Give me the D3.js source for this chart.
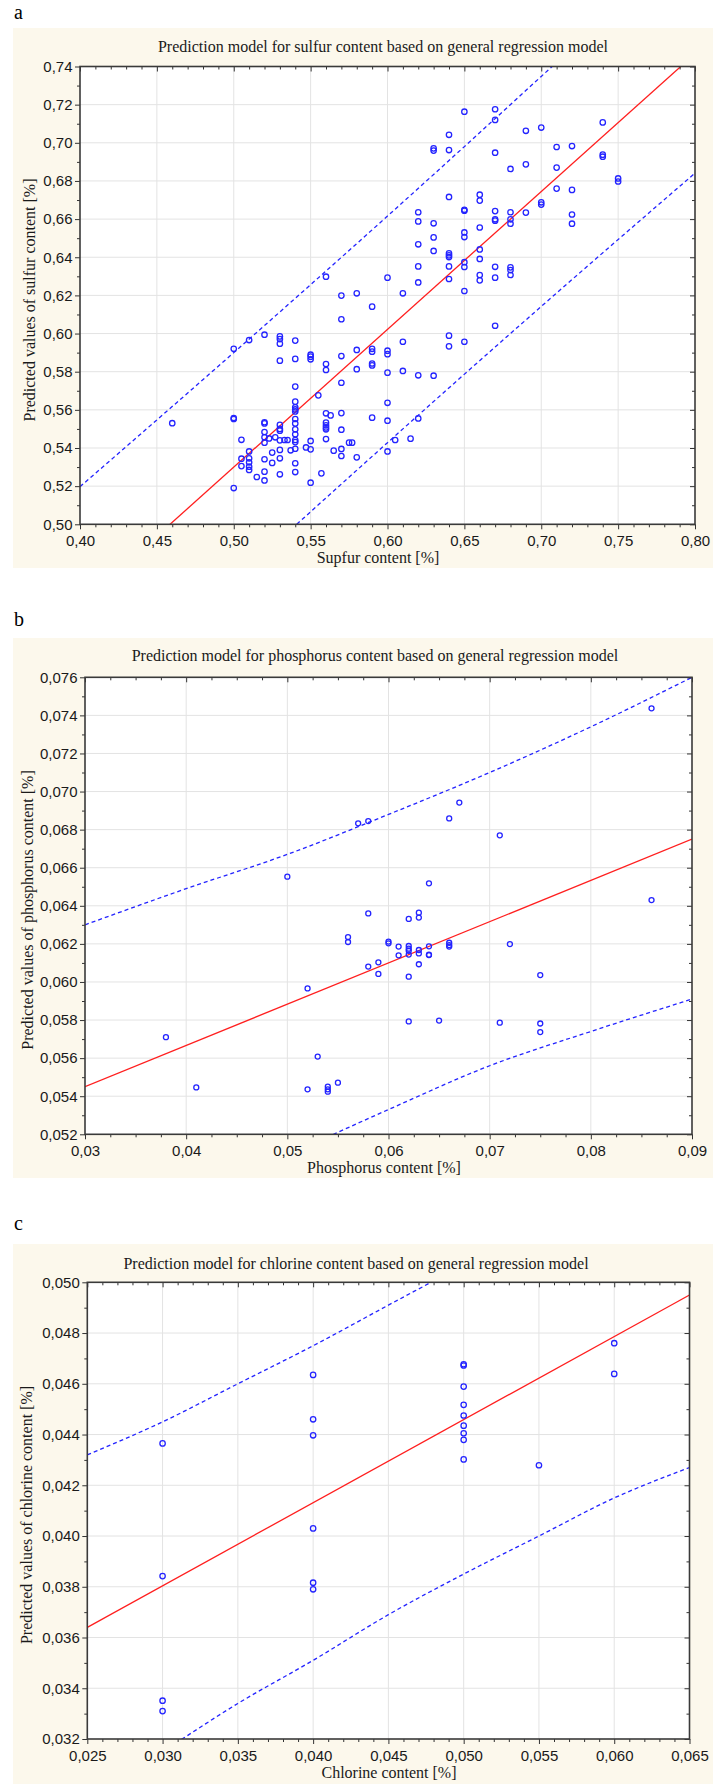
<!DOCTYPE html>
<html>
<head>
<meta charset="utf-8">
<script src="https://cdn.jsdelivr.net/npm/d3@7"></script>
<style>
  body { margin: 0; background: #fff; }
  svg { display: block; }
</style>
</head>
<body>
<div id="chart"></div>
<script>
// ---- data ----

// a: sulfur (x grouped, each x has a list of predicted values)
const sulfurX = [0.46, 0.50, 0.505, 0.51, 0.515, 0.52, 0.523, 0.525, 0.527, 0.53, 0.533, 0.535, 0.537,
  0.54, 0.547, 0.55, 0.555, 0.557, 0.56, 0.563, 0.565, 0.57, 0.575, 0.577, 0.58, 0.59, 0.60, 0.605,
  0.61, 0.615, 0.62, 0.63, 0.64, 0.65, 0.66, 0.67, 0.68, 0.69, 0.70, 0.71, 0.72, 0.74, 0.75];
const sulfurY = [
  [0.553],
  [0.592, 0.5557, 0.5552, 0.519],
  [0.5443, 0.5344, 0.5305],
  [0.5966, 0.5382, 0.5346, 0.5325, 0.5302, 0.5285],
  [0.5248],
  [0.5994, 0.5535, 0.5529, 0.5484, 0.5456, 0.5428, 0.5341, 0.5276, 0.5230],
  [0.5450],
  [0.5376, 0.5322],
  [0.5456],
  [0.5985, 0.5971, 0.5947, 0.5858, 0.5521, 0.5500, 0.5491, 0.5440, 0.5390, 0.5346, 0.5262],
  [0.5442],
  [0.5442],
  [0.5388],
  [0.5963, 0.5867, 0.5722, 0.5643, 0.5613, 0.5602, 0.5592, 0.5552, 0.5529, 0.5498, 0.5472, 0.5442, 0.5431, 0.5396, 0.5320, 0.5274],
  [0.5403],
  [0.5889, 0.5879, 0.5865, 0.5437, 0.5393, 0.5218],
  [0.5676],
  [0.5267],
  [0.6298, 0.5840, 0.5809, 0.5582, 0.5533, 0.5519, 0.5508, 0.5498, 0.5447],
  [0.5571],
  [0.5386],
  [0.6199, 0.6075, 0.5882, 0.5742, 0.5583, 0.5496, 0.5395, 0.5358],
  [0.5428],
  [0.5428],
  [0.6211, 0.5914, 0.5813, 0.5351],
  [0.6141, 0.5920, 0.5905, 0.5843, 0.5833, 0.5559],
  [0.6293, 0.5910, 0.5892, 0.5795, 0.5637, 0.5543, 0.5382],
  [0.5442],
  [0.6211, 0.5957, 0.5804],
  [0.5449],
  [0.6636, 0.6588, 0.6468, 0.6352, 0.6268, 0.5781, 0.5555],
  [0.6971, 0.6959, 0.6578, 0.6504, 0.6433, 0.5779],
  [0.7042, 0.6962, 0.6716, 0.6421, 0.6410, 0.6401, 0.6352, 0.6286, 0.5989, 0.5933],
  [0.7163, 0.6649, 0.6644, 0.6530, 0.6506, 0.6374, 0.6349, 0.6223, 0.5957],
  [0.6728, 0.6697, 0.6556, 0.6441, 0.6391, 0.6307, 0.6279],
  [0.7176, 0.7120, 0.6948, 0.6642, 0.6599, 0.6592, 0.6350, 0.6293, 0.6041],
  [0.6863, 0.6636, 0.6599, 0.6576, 0.6347, 0.6333, 0.6307],
  [0.7063, 0.6887, 0.6634],
  [0.7080, 0.6688, 0.6676],
  [0.6978, 0.6870, 0.6760],
  [0.6983, 0.6753, 0.6624, 0.6576],
  [0.7107, 0.6938, 0.6927],
  [0.6813, 0.6797]
];
const sulfurFitX = [0.40, 0.80];
const sulfurFitY = [0.4577, 0.7467];
const sulfurBandX = [0.40, 0.50, 0.60, 0.70, 0.80];
const sulfurUpper = [0.5197, 0.5900, 0.6616, 0.7348, 0.8093];
const sulfurLower = [0.3957, 0.4700, 0.5428, 0.6142, 0.6841];
const sulfurXTicks = [0.40, 0.45, 0.50, 0.55, 0.60, 0.65, 0.70, 0.75, 0.80];
const sulfurYTicks = [0.50, 0.52, 0.54, 0.56, 0.58, 0.60, 0.62, 0.64, 0.66, 0.68, 0.70, 0.72, 0.74];

// b: phosphorus
const phosX = [0.038, 0.041, 0.050, 0.052, 0.053, 0.054, 0.055, 0.056, 0.057, 0.058, 0.059, 0.060,
  0.061, 0.062, 0.063, 0.064, 0.065, 0.066, 0.067, 0.071, 0.072, 0.075, 0.086];
const phosY = [
  [0.0571], [0.05446], [0.06553], [0.05966, 0.05436], [0.05608], [0.05450, 0.05436, 0.05424],
  [0.05471], [0.06236, 0.06210], [0.06833], [0.06845, 0.06360, 0.06081], [0.06103, 0.06042],
  [0.06212, 0.06203], [0.06186, 0.06140],
  [0.06331, 0.06189, 0.06175, 0.06164, 0.06144, 0.06028, 0.05793],
  [0.06364, 0.06338, 0.06168, 0.06150, 0.06093],
  [0.06518, 0.06187, 0.06143, 0.06141], [0.05797], [0.06859, 0.06206, 0.06194, 0.06186],
  [0.06942], [0.06770, 0.05786], [0.06199], [0.06036, 0.05782, 0.05737], [0.07437, 0.06430]
];
const phosFitX = [0.03, 0.09];
const phosFitY = [0.0545, 0.0675];
const phosBandX = [0.03, 0.04, 0.05, 0.06, 0.07, 0.08, 0.09];
const phosUpper = [0.0630, 0.0649, 0.0667, 0.0688, 0.0710, 0.0734, 0.0760];
const phosLower = [0.0460, 0.0485, 0.0509, 0.0533, 0.0556, 0.0574, 0.0591];
const phosXTicks = [0.03, 0.04, 0.05, 0.06, 0.07, 0.08, 0.09];
const phosYTicks = [0.052, 0.054, 0.056, 0.058, 0.060, 0.062, 0.064, 0.066, 0.068, 0.070, 0.072, 0.074, 0.076];

// c: chlorine
const chlorX = [0.030, 0.040, 0.050, 0.055, 0.060];
const chlorY = [
  [0.04365, 0.03842, 0.03351, 0.03310],
  [0.04635, 0.04460, 0.04397, 0.04030, 0.03816, 0.03790],
  [0.04677, 0.04672, 0.04589, 0.04517, 0.04475, 0.04435, 0.04405, 0.04379, 0.04302],
  [0.04279],
  [0.04760, 0.04639]
];
const chlorFitX = [0.025, 0.065];
const chlorFitY = [0.0364, 0.0495];
const chlorBandX = [0.025, 0.030, 0.035, 0.040, 0.045, 0.050, 0.055, 0.060, 0.065];
const chlorUpper = [0.0432, 0.0445, 0.0460, 0.0475, 0.0491, 0.0507, 0.0524, 0.0543, 0.0563];
const chlorLower = [0.0296, 0.0315, 0.0334, 0.0351, 0.0369, 0.0385, 0.0400, 0.0415, 0.0427];
const chlorXTicks = [0.025, 0.030, 0.035, 0.040, 0.045, 0.050, 0.055, 0.060, 0.065];
const chlorYTicks = [0.032, 0.034, 0.036, 0.038, 0.040, 0.042, 0.044, 0.046, 0.048, 0.050];

// ---- drawing ----
const WIDTH = 713, HEIGHT = 1784;
const SERIF = "'Liberation Serif', 'Times New Roman', serif";
const SANS = "'Liberation Sans', Arial, sans-serif";
const CREAM = "#fcf8ec";
const BLUE = "#2424ff";

const locale = d3.formatLocale({decimal: ",", thousands: " ", grouping: [3], currency: ["", ""]});

const svg = d3.select("#chart")
  .append("svg")
    .attr("width", WIDTH)
    .attr("height", HEIGHT);

// minor tick positions between the majors
function minorTicks(domain, step, majors) {
  const n = Math.round((domain[1] - domain[0]) / step);
  return d3.range(n + 1)
    .map(i => +(domain[0] + i * step).toFixed(6))
    .filter(v => !majors.some(m => Math.abs(m - v) < step / 10));
}

function styleAxis(g) {
  g.select(".domain").remove();
  g.selectAll("line").attr("stroke", "#333").attr("stroke-width", 1);
  g.selectAll("text")
    .attr("fill", "#1a1a1a")
    .style("font-family", SANS)
    .style("font-size", "15px");
}

function drawPanel(p) {
  const g = svg.append("g");

  g.append("rect")
    .attr("x", 13).attr("y", p.boxTop)
    .attr("width", WIDTH - 13).attr("height", p.boxBottom - p.boxTop)
    .attr("fill", CREAM);

  g.append("text")
    .attr("x", 14).attr("y", p.letterY)
    .style("font-family", SERIF).style("font-size", "20px")
    .text(p.letter);

  const xTicks = p.xTicks, yTicks = p.yTicks;
  const xDom = [xTicks[0], xTicks[xTicks.length - 1]];
  const yDom = [yTicks[0], yTicks[yTicks.length - 1]];
  const x = d3.scaleLinear().domain(xDom).range([p.left, p.right]);
  const y = d3.scaleLinear().domain(yDom).range([p.bottom, p.top]);

  g.append("rect")
    .attr("x", p.left).attr("y", p.top)
    .attr("width", p.right - p.left).attr("height", p.bottom - p.top)
    .attr("fill", "#fff");

  // grid
  g.append("g").selectAll("line")
    .data(xTicks.slice(1, -1))
    .enter().append("line")
      .attr("x1", d => x(d)).attr("x2", d => x(d))
      .attr("y1", p.top).attr("y2", p.bottom)
      .attr("stroke", "#e3e3e3");
  g.append("g").selectAll("line")
    .data(yTicks.slice(1, -1))
    .enter().append("line")
      .attr("x1", p.left).attr("x2", p.right)
      .attr("y1", d => y(d)).attr("y2", d => y(d))
      .attr("stroke", "#e3e3e3");

  const clipId = "clip-" + p.letter;
  g.append("clipPath").attr("id", clipId)
    .append("rect")
      .attr("x", p.left).attr("y", p.top)
      .attr("width", p.right - p.left).attr("height", p.bottom - p.top);

  const plot = g.append("g").attr("clip-path", "url(#" + clipId + ")");

  const bandLine = d3.line()
    .x(d => x(d[0])).y(d => y(d[1]))
    .curve(d3.curveMonotoneX);

  [p.upper, p.lower].forEach(vals => {
    plot.append("path")
      .datum(p.bandX.map((v, i) => [v, vals[i]]))
      .attr("d", bandLine)
      .attr("fill", "none")
      .attr("stroke", BLUE)
      .attr("stroke-width", 1.3)
      .attr("stroke-dasharray", "4,3");
  });

  plot.append("path")
    .datum(p.fitX.map((v, i) => [v, p.fitY[i]]))
    .attr("d", d3.line().x(d => x(d[0])).y(d => y(d[1])))
    .attr("fill", "none")
    .attr("stroke", "#ff1f1f")
    .attr("stroke-width", 1.3);

  const points = p.xs.flatMap((xv, i) => p.ys[i].map(yv => [xv, yv]));
  plot.append("g").selectAll("circle")
    .data(points)
    .enter().append("circle")
      .attr("cx", d => x(d[0]))
      .attr("cy", d => y(d[1]))
      .attr("r", p.r)
      .attr("fill", "none")
      .attr("stroke", BLUE)
      .attr("stroke-width", 1.3);

  // axes: left/bottom ticks outward with labels, right/top ticks inward
  const xMinor = minorTicks(xDom, p.xMinorStep, xTicks);
  const yMinor = minorTicks(yDom, p.yMinorStep, yTicks);

  g.append("g").attr("transform", "translate(" + p.left + ",0)")
    .call(d3.axisLeft(y).tickValues(yTicks).tickSize(5).tickPadding(2.5).tickFormat(p.yFormat))
    .call(styleAxis);
  g.append("g").attr("transform", "translate(" + p.left + ",0)")
    .call(d3.axisLeft(y).tickValues(yMinor).tickSize(3).tickFormat(""))
    .call(styleAxis);
  g.append("g").attr("transform", "translate(0," + p.bottom + ")")
    .call(d3.axisBottom(x).tickValues(xTicks).tickSize(5).tickPadding(6.4).tickFormat(p.xFormat))
    .call(styleAxis);
  g.append("g").attr("transform", "translate(0," + p.bottom + ")")
    .call(d3.axisBottom(x).tickValues(xMinor).tickSize(3).tickFormat(""))
    .call(styleAxis);
  g.append("g").attr("transform", "translate(" + p.right + ",0)")
    .call(d3.axisLeft(y).tickValues(yTicks).tickSize(5).tickFormat(""))
    .call(styleAxis);
  g.append("g").attr("transform", "translate(" + p.right + ",0)")
    .call(d3.axisLeft(y).tickValues(yMinor).tickSize(3).tickFormat(""))
    .call(styleAxis);
  g.append("g").attr("transform", "translate(0," + p.top + ")")
    .call(d3.axisBottom(x).tickValues(xTicks).tickSize(5).tickFormat(""))
    .call(styleAxis);
  g.append("g").attr("transform", "translate(0," + p.top + ")")
    .call(d3.axisBottom(x).tickValues(xMinor).tickSize(3).tickFormat(""))
    .call(styleAxis);

  // frame
  g.append("rect")
    .attr("x", p.left).attr("y", p.top)
    .attr("width", p.right - p.left).attr("height", p.bottom - p.top)
    .attr("fill", "none")
    .attr("stroke", "#3a3a3a")
    .attr("stroke-width", 1.6);

  // texts
  g.append("text")
    .attr("x", p.titleX).attr("y", p.top - p.titleGap)
    .attr("text-anchor", "middle")
    .style("font-family", SERIF).style("font-size", "16px")
    .attr("fill", "#1a1a1a")
    .text(p.title);

  g.append("text")
    .attr("x", p.xTitleX).attr("y", p.bottom + 38.5)
    .attr("text-anchor", "middle")
    .style("font-family", SERIF).style("font-size", "16px")
    .attr("fill", "#1a1a1a")
    .text(p.xTitle);

  g.append("text")
    .attr("transform", "translate(" + p.yTitleX + "," + p.yTitleY + ") rotate(-90)")
    .attr("text-anchor", "middle")
    .style("font-family", SERIF).style("font-size", "16px")
    .attr("fill", "#1a1a1a")
    .text(p.yTitle);
}

drawPanel({
  letter: "a", letterY: 19, boxTop: 28, boxBottom: 568,
  left: 80, right: 695, top: 66.5, bottom: 524.3,
  xTicks: sulfurXTicks, yTicks: sulfurYTicks, xMinorStep: 0.01, yMinorStep: 0.01,
  xFormat: locale.format(".2f"), yFormat: locale.format(".2f"),
  xs: sulfurX, ys: sulfurY, fitX: sulfurFitX, fitY: sulfurFitY,
  bandX: sulfurBandX, upper: sulfurUpper, lower: sulfurLower, r: 2.7,
  title: "Prediction model for sulfur content based on general regression model",
  titleX: 383, titleGap: 14.5,
  xTitle: "Supfur content [%]", xTitleX: 378,
  yTitle: "Predicted values of sulfur content [%]", yTitleX: 34.5, yTitleY: 300
});

drawPanel({
  letter: "b", letterY: 626, boxTop: 638, boxBottom: 1178,
  left: 85, right: 692, top: 677.3, bottom: 1134.3,
  xTicks: phosXTicks, yTicks: phosYTicks, xMinorStep: 0.0025, yMinorStep: 0.001,
  xFormat: locale.format(".2f"), yFormat: locale.format(".3f"),
  xs: phosX, ys: phosY, fitX: phosFitX, fitY: phosFitY,
  bandX: phosBandX, upper: phosUpper, lower: phosLower, r: 2.5,
  title: "Prediction model for phosphorus content based on general regression model",
  titleX: 375, titleGap: 16,
  xTitle: "Phosphorus content [%]", xTitleX: 384,
  yTitle: "Predicted values of phosphorus content [%]", yTitleX: 32.5, yTitleY: 910
});

drawPanel({
  letter: "c", letterY: 1230, boxTop: 1244, boxBottom: 1784,
  left: 87.3, right: 689.5, top: 1282.3, bottom: 1739,
  xTicks: chlorXTicks, yTicks: chlorYTicks, xMinorStep: 0.001, yMinorStep: 0.001,
  xFormat: locale.format(".3f"), yFormat: locale.format(".3f"),
  xs: chlorX, ys: chlorY, fitX: chlorFitX, fitY: chlorFitY,
  bandX: chlorBandX, upper: chlorUpper, lower: chlorLower, r: 2.7,
  title: "Prediction model for chlorine content based on general regression model",
  titleX: 356, titleGap: 13.8,
  xTitle: "Chlorine content [%]", xTitleX: 389,
  yTitle: "Predicted values of chlorine content [%]", yTitleX: 31.5, yTitleY: 1515
});
</script>
</body>
</html>
